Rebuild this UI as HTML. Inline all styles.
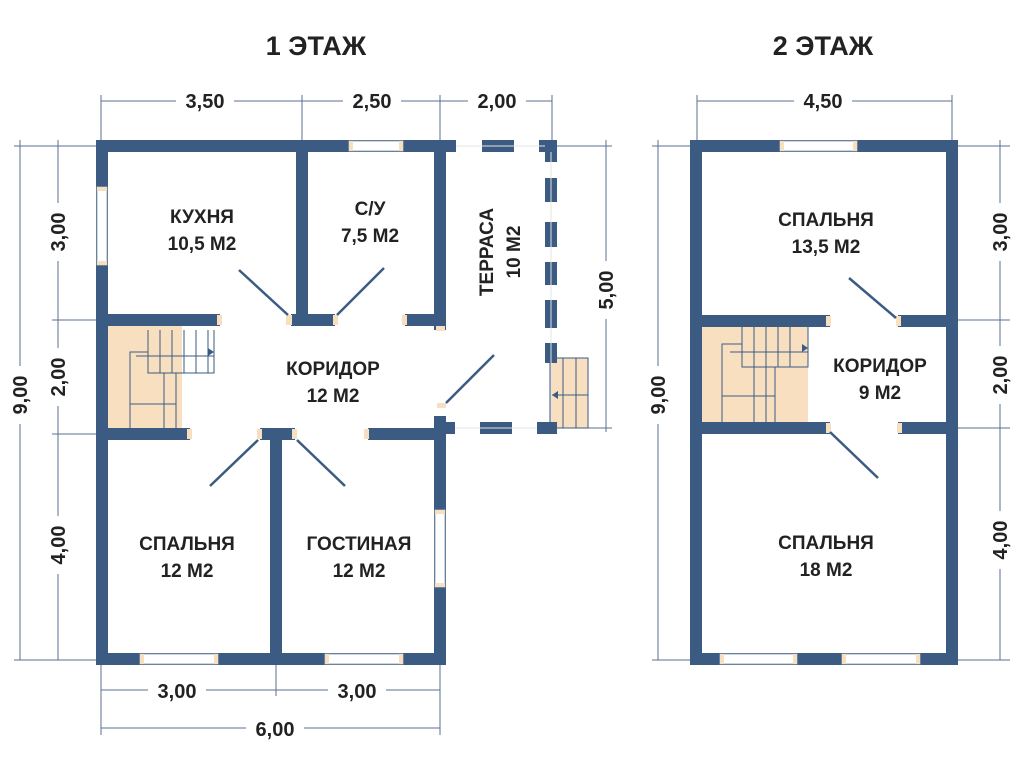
<!DOCTYPE html>
<html><head><meta charset="utf-8"><style>
html,body{margin:0;padding:0;background:#fff;}
svg{display:block;}
text{font-family:"Liberation Sans","DejaVu Sans",sans-serif;font-weight:bold;fill:#222;}
</style></head><body>
<svg width="1024" height="768" viewBox="0 0 1024 768" xmlns="http://www.w3.org/2000/svg">
<g stroke="#5a7090" stroke-width="1" fill="none">
<line x1="101" y1="101" x2="552" y2="101"/>
<line x1="101" y1="95" x2="101" y2="140"/><line x1="302" y1="95" x2="302" y2="140"/>
<line x1="440" y1="95" x2="440" y2="140"/><line x1="552" y1="95" x2="552" y2="140"/>
<line x1="14" y1="146" x2="96" y2="146"/><line x1="14" y1="660" x2="96" y2="660"/>
<line x1="20" y1="140" x2="20" y2="660"/><line x1="58" y1="140" x2="58" y2="660"/>
<line x1="52" y1="320" x2="96" y2="320"/><line x1="52" y1="434" x2="96" y2="434"/>
<line x1="556" y1="146" x2="612" y2="146"/><line x1="556" y1="428" x2="612" y2="428"/>
<line x1="606" y1="140" x2="606" y2="432"/>
<line x1="101" y1="665" x2="101" y2="735"/><line x1="276" y1="665" x2="276" y2="696"/>
<line x1="440" y1="665" x2="440" y2="735"/>
<line x1="101" y1="690" x2="440" y2="690"/><line x1="101" y1="728" x2="440" y2="728"/>
<line x1="697" y1="101" x2="952" y2="101"/>
<line x1="697" y1="95" x2="697" y2="140"/><line x1="952" y1="95" x2="952" y2="140"/>
<line x1="652" y1="146" x2="690" y2="146"/><line x1="652" y1="660" x2="690" y2="660"/>
<line x1="658" y1="140" x2="658" y2="660"/>
<line x1="958" y1="146" x2="1010" y2="146"/><line x1="958" y1="320" x2="1010" y2="320"/>
<line x1="958" y1="428" x2="1010" y2="428"/><line x1="958" y1="660" x2="1010" y2="660"/>
<line x1="1000" y1="140" x2="1000" y2="660"/>
</g>
<g font-size="20">
<rect x="176" y="88" width="58" height="24" fill="#fff"/><text x="205" y="108" text-anchor="middle">3,50</text>
<rect x="343" y="88" width="58" height="24" fill="#fff"/><text x="372" y="108" text-anchor="middle">2,50</text>
<rect x="468" y="88" width="58" height="24" fill="#fff"/><text x="497" y="108" text-anchor="middle">2,00</text>
<rect x="794" y="88" width="58" height="24" fill="#fff"/><text x="823" y="108" text-anchor="middle">4,50</text>
<rect x="148" y="678" width="58" height="24" fill="#fff"/><text x="177" y="698" text-anchor="middle">3,00</text>
<rect x="328" y="678" width="58" height="24" fill="#fff"/><text x="357" y="698" text-anchor="middle">3,00</text>
<rect x="246" y="716" width="58" height="24" fill="#fff"/><text x="275" y="736" text-anchor="middle">6,00</text>
<g transform="translate(27,395) rotate(-90)"><rect x="-29" y="-19" width="58" height="24" fill="#fff"/><text text-anchor="middle">9,00</text></g>
<g transform="translate(65,232) rotate(-90)"><rect x="-29" y="-19" width="58" height="24" fill="#fff"/><text text-anchor="middle">3,00</text></g>
<g transform="translate(65,377) rotate(-90)"><rect x="-29" y="-19" width="58" height="24" fill="#fff"/><text text-anchor="middle">2,00</text></g>
<g transform="translate(65,545) rotate(-90)"><rect x="-29" y="-19" width="58" height="24" fill="#fff"/><text text-anchor="middle">4,00</text></g>
<g transform="translate(613,290) rotate(-90)"><rect x="-29" y="-19" width="58" height="24" fill="#fff"/><text text-anchor="middle">5,00</text></g>
<g transform="translate(665,395) rotate(-90)"><rect x="-29" y="-19" width="58" height="24" fill="#fff"/><text text-anchor="middle">9,00</text></g>
<g transform="translate(1007,232) rotate(-90)"><rect x="-29" y="-19" width="58" height="24" fill="#fff"/><text text-anchor="middle">3,00</text></g>
<g transform="translate(1007,375) rotate(-90)"><rect x="-29" y="-19" width="58" height="24" fill="#fff"/><text text-anchor="middle">2,00</text></g>
<g transform="translate(1007,540) rotate(-90)"><rect x="-29" y="-19" width="58" height="24" fill="#fff"/><text text-anchor="middle">4,00</text></g>
</g>
<text x="316" y="55" font-size="27" text-anchor="middle">1 ЭТАЖ</text>
<text x="823" y="55" font-size="27" text-anchor="middle">2 ЭТАЖ</text>

<rect x="108" y="326" width="74" height="102" fill="#f8dfc0"/>
<g stroke="#3b5b82" stroke-width="1" fill="none">
<path d="M148 330V373H214V330M160 330V373M172 330V373M184 330V373M196 330V373M208 330V373M130 428V352H148M130 404H176M164 373V428M176 373V428"/>
<path d="M136 356H214"/>
</g>
<path d="M214 352l-6-4v8z" fill="#3b5b82"/>
<rect x="550" y="358" width="38" height="70" fill="#f8dfc0" stroke="#3b5b82" stroke-width="1"/>
<g stroke="#3b5b82" stroke-width="1"><line x1="563" y1="358" x2="563" y2="428"/><line x1="576" y1="358" x2="576" y2="428"/><line x1="552" y1="395" x2="588" y2="395"/></g>
<path d="M552 395l6-4v8z" fill="#3b5b82"/>

<g fill="#3b5b82">
<rect x="96" y="140" width="360" height="12"/>
<rect x="96" y="140" width="12" height="525"/>
<rect x="96" y="653" width="350" height="12"/>
<rect x="434" y="140" width="12" height="190"/>
<rect x="296" y="140" width="12" height="186"/>
<rect x="96" y="314" width="124" height="12"/>
<rect x="291" y="314" width="44" height="12"/>
<rect x="405" y="314" width="41" height="12"/>
<rect x="96" y="428" width="94" height="12"/>
<rect x="260" y="428" width="35" height="12"/>
<rect x="368" y="428" width="78" height="12"/>
<rect x="434" y="416" width="12" height="249"/>
<rect x="270" y="428" width="12" height="237"/>
<rect x="434" y="422" width="21" height="12"/>
<rect x="482" y="140" width="32" height="12"/>
<rect x="539" y="140" width="18" height="12"/>
<rect x="545" y="140" width="12" height="22"/>
<rect x="545" y="178" width="12" height="24"/>
<rect x="545" y="222" width="12" height="25"/>
<rect x="545" y="262" width="12" height="23"/>
<rect x="545" y="300" width="12" height="28"/>
<rect x="545" y="343" width="12" height="20"/>
<rect x="480" y="422" width="32" height="12"/>
<rect x="537" y="422" width="20" height="12"/>
</g>
<g stroke="#e6e6e6" stroke-width="1"><line x1="456" y1="146" x2="545" y2="146"/><line x1="551" y1="152" x2="551" y2="422"/><line x1="455" y1="428" x2="537" y2="428"/></g>
<g fill="#fff" stroke="#9aa8b8" stroke-width="1">
<rect x="349" y="141" width="54" height="10"/>
<rect x="97" y="187" width="10" height="78"/>
<rect x="435" y="510" width="10" height="77"/>
<rect x="140" y="654" width="78" height="10"/>
<rect x="325" y="654" width="78" height="10"/>
</g>
<g fill="#f8dfc0">
<rect x="349" y="141" width="4" height="10"/><rect x="399" y="141" width="4" height="10"/>
<rect x="97" y="187" width="10" height="4"/><rect x="97" y="261" width="10" height="4"/>
<rect x="435" y="510" width="10" height="4"/><rect x="435" y="583" width="10" height="4"/>
<rect x="140" y="654" width="4" height="10"/><rect x="214" y="654" width="4" height="10"/>
<rect x="325" y="654" width="4" height="10"/><rect x="399" y="654" width="4" height="10"/>
<rect x="217" y="315" width="5" height="10"/><rect x="286" y="315" width="6" height="10"/>
<rect x="333" y="315" width="5" height="10"/><rect x="402" y="315" width="5" height="10"/>
<rect x="436" y="326" width="9" height="5"/>
<rect x="187" y="429" width="5" height="10"/><rect x="257" y="429" width="5" height="10"/>
<rect x="292" y="429" width="5" height="10"/><rect x="364" y="429" width="5" height="10"/>
<rect x="437" y="403" width="9" height="5"/>
</g>
<g stroke="#3b5b82" stroke-width="2.5">
<line x1="239" y1="270" x2="288" y2="315"/>
<line x1="384" y1="268" x2="337" y2="315"/>
<line x1="494" y1="355" x2="446" y2="403"/>
<line x1="258" y1="440" x2="210" y2="486"/>
<line x1="297" y1="440" x2="345" y2="486"/>
</g>

<rect x="702" y="327" width="106" height="95" fill="#f8dfc0"/>
<g stroke="#3b5b82" stroke-width="1" fill="none">
<path d="M742 327V367H808V327M754 327V367M766 327V367M778 327V367M790 327V367M722 422V344H742M722 396H775M754 367V422M766 367V422M775 367V422M730 352H808"/>
</g>
<path d="M808 348l-6-4v8z" fill="#3b5b82"/>
<g fill="#3b5b82">
<rect x="690" y="140" width="268" height="12"/>
<rect x="690" y="140" width="12" height="525"/>
<rect x="946" y="140" width="12" height="525"/>
<rect x="690" y="653" width="268" height="12"/>
<rect x="690" y="315" width="140" height="12"/>
<rect x="898" y="315" width="60" height="12"/>
<rect x="690" y="422" width="140" height="12"/>
<rect x="898" y="422" width="60" height="12"/>
</g>
<g fill="#fff" stroke="#9aa8b8" stroke-width="1">
<rect x="780" y="141" width="77" height="10"/>
<rect x="720" y="654" width="77" height="10"/>
<rect x="842" y="654" width="78" height="10"/>
</g>
<g fill="#f8dfc0">
<rect x="780" y="141" width="4" height="10"/><rect x="853" y="141" width="4" height="10"/>
<rect x="720" y="654" width="4" height="10"/><rect x="793" y="654" width="4" height="10"/>
<rect x="842" y="654" width="4" height="10"/><rect x="916" y="654" width="4" height="10"/>
<rect x="826" y="316" width="5" height="10"/><rect x="896" y="316" width="5" height="10"/>
<rect x="826" y="423" width="5" height="10"/><rect x="897" y="423" width="5" height="10"/>
</g>
<g stroke="#3b5b82" stroke-width="2.5">
<line x1="849" y1="278" x2="896" y2="318"/>
<line x1="830" y1="432" x2="878" y2="478"/>
</g>

<g font-size="19" text-anchor="middle">
<text x="202" y="223">КУХНЯ</text><text x="202" y="250">10,5 М2</text>
<text x="370" y="215">С/У</text><text x="370" y="242">7,5 М2</text>
<text x="333" y="375">КОРИДОР</text><text x="333" y="402">12 М2</text>
<text x="187" y="550">СПАЛЬНЯ</text><text x="187" y="577">12 М2</text>
<text x="359" y="550">ГОСТИНАЯ</text><text x="359" y="577">12 М2</text>
<text x="826" y="226">СПАЛЬНЯ</text><text x="826" y="253">13,5 М2</text>
<text x="880" y="372">КОРИДОР</text><text x="880" y="399">9 М2</text>
<text x="826" y="549">СПАЛЬНЯ</text><text x="826" y="576">18 М2</text>
<g transform="translate(493,252) rotate(-90)"><text>ТЕРРАСА</text></g>
<g transform="translate(520,252) rotate(-90)"><text>10 М2</text></g>
</g>
</svg>
</body></html>
